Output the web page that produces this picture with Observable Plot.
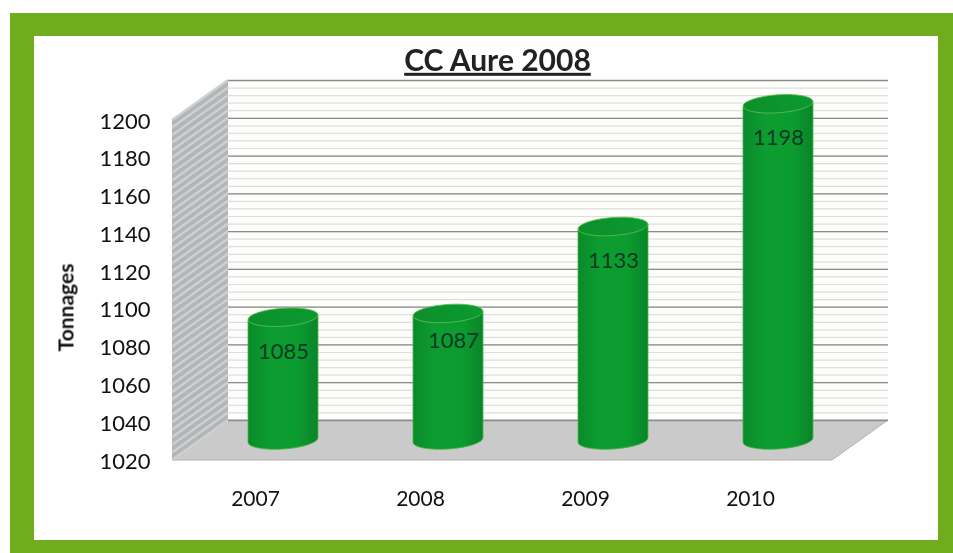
<!DOCTYPE html>
<html>
<head>
<meta charset="utf-8">
<script src="https://cdn.jsdelivr.net/npm/d3@7"></script>
<script src="https://cdn.jsdelivr.net/npm/@observablehq/plot@0.6"></script>
<style>
html,body{margin:0;padding:0;background:#fff;width:953px;height:553px;overflow:hidden}
#outer{position:absolute;left:10px;top:13px;width:943px;height:540px;background:#70ad1e}
#inner{position:absolute;left:34px;top:36px;width:904px;height:504px;background:#fff}
#chart{position:absolute;left:0;top:0}
#chart svg{background:transparent;filter:blur(.55px)}
.title-text{text-decoration:underline}
</style>
</head>
<body>
<div id="outer"></div><div id="inner"></div><div id="chart"></div>
<script>
const years = ["2007", "2008", "2009", "2010"];
const tonnages = [1085, 1087, 1133, 1198];
const yMin = 1020;
const yMax = 1200;
const majorTicks = d3.range(yMin, yMax + 1, 20);
const minorTicks = d3.range(yMin, yMax + 1, 4);
const rows = years.map((year, i) => ({year, value: tonnages[i]}));

const depthX = 56, depthY = -40;

function sidesAndFloor(index, {y}, values, {width, height, marginLeft, marginRight, marginBottom}) {
  const g = d3.create("svg:g");
  const xl = marginLeft, xr = width - marginRight, yb = height - marginBottom;
  const defs = g.append("defs");
  const body = defs.append("linearGradient").attr("id", "cyl");
  [[0, "#0a8a2a"], [.3, "#0c9c30"], [.7, "#0b9c30"], [1, "#0a8429"]]
    .forEach(([o, c]) => body.append("stop").attr("offset", o).attr("stop-color", c));
  const cap = defs.append("linearGradient").attr("id", "cap");
  [[0, "#0d8f2c"], [1, "#0a9a30"]]
    .forEach(([o, c]) => cap.append("stop").attr("offset", o).attr("stop-color", c));
  g.append("path")
    .attr("d", `M${xl},${yb}L${xr},${yb}L${xr + depthX},${yb + depthY}L${xl + depthX},${yb + depthY}Z`)
    .attr("fill", "#c9cac9").attr("stroke", "#b0b1b0").attr("stroke-width", 1);
  g.append("path")
    .attr("d", `M${xl},${y(yMin)}L${xl},${y(yMax)}L${xl + depthX},${y(yMax) + depthY}L${xl + depthX},${y(yMin) + depthY}Z`)
    .attr("fill", "#b3b6b9");
  for (const t of minorTicks) {
    g.append("line")
      .attr("x1", xl).attr("y1", y(t)).attr("x2", xl + depthX).attr("y2", y(t) + depthY)
      .attr("stroke", "#cfd1d1").attr("stroke-width", 2.4);
  }
  return g.node();
}

function cylinders(index, scales, values, dimensions, context, next) {
  const g = next(index, scales, values, dimensions, context);
  const tilt = 4, ry = 9;
  for (const r of [...g.querySelectorAll("rect")]) {
    const x = +r.getAttribute("x"), w = +r.getAttribute("width");
    const t = +r.getAttribute("y"), b = t + +r.getAttribute("height");
    const rx = w / 2, d = rx * Math.sin(tilt * Math.PI / 180);
    const ns = "http://www.w3.org/2000/svg";
    const p = document.createElementNS(ns, "path");
    p.setAttribute("d", `M${x},${t + d}L${x},${b + d}A${rx},${ry} ${-tilt} 0 0 ${x + w},${b - d}L${x + w},${t - d}Z`);
    p.setAttribute("fill", "url(#cyl)");
    p.setAttribute("stroke", "#4cb848");
    p.setAttribute("stroke-width", ".8");
    const e = document.createElementNS(ns, "ellipse");
    e.setAttribute("cx", x + rx); e.setAttribute("cy", t);
    e.setAttribute("rx", rx); e.setAttribute("ry", ry);
    e.setAttribute("transform", `rotate(${-tilt} ${x + rx} ${t})`);
    e.setAttribute("fill", "url(#cap)");
    e.setAttribute("stroke", "#5cc04c");
    e.setAttribute("stroke-width", ".8");
    r.replaceWith(p);
    p.after(e);
  }
  return g;
}

const plot = Plot.plot({
  width: 953,
  height: 553,
  marginLeft: 172,
  marginRight: 121,
  marginTop: 120,
  marginBottom: 93,
  style: {fontFamily: "Lato, sans-serif", background: "transparent", color: "#111", overflow: "visible"},
  x: {type: "band", domain: years, paddingInner: 0.576, paddingOuter: 0.288, label: null},
  y: {domain: [yMin, yMax], label: null},
  marks: [
    Plot.frame({fill: "#fdfdfb", stroke: "none", dx: depthX, dy: depthY}),
    sidesAndFloor,
    Plot.ruleY(minorTicks, {stroke: "#dededa", strokeWidth: 1.2, dx: depthX, dy: depthY}),
    Plot.ruleY(majorTicks, {stroke: "#8b8b8b", strokeWidth: 1.3, dx: depthX, dy: depthY}),
    Plot.barY(rows, {x: "year", y1: yMin, y2: "value", dx: depthX / 2, dy: depthY / 2, fill: "#0b9a2e", render: cylinders}),
    Plot.text(rows.filter(d => d.year !== "2008"), {x: "year", y: "value", text: d => String(d.value), dx: depthX / 2, dy: 14, fontSize: 22, fill: "#0c3a22"}),
    Plot.text(rows.filter(d => d.year === "2008"), {x: "year", y: "value", text: d => String(d.value), dx: depthX / 2 + 5, dy: 7, fontSize: 22, fill: "#0c3a22"}),
    Plot.axisY({ticks: majorTicks, tickSize: 0, tickPadding: 22, fontSize: 22, dy: 1, label: null, tickFormat: d => String(d)}),
    Plot.axisX({tickSize: 0, tickPadding: 31, fontSize: 21, label: null}),
    Plot.text(["CC Aure 2008"], {frameAnchor: "top", dx: -5, dy: -71, fontSize: 30, fontWeight: 700, fill: "#222", className: "title-text"}),
    Plot.text(["Tonnages"], {frameAnchor: "left", textAnchor: "middle", rotate: -90, dx: -106, dy: 17, fontSize: 21, fontWeight: 700, fill: "#111"})
  ]
});
document.getElementById("chart").append(plot);
</script>
</body>
</html>
